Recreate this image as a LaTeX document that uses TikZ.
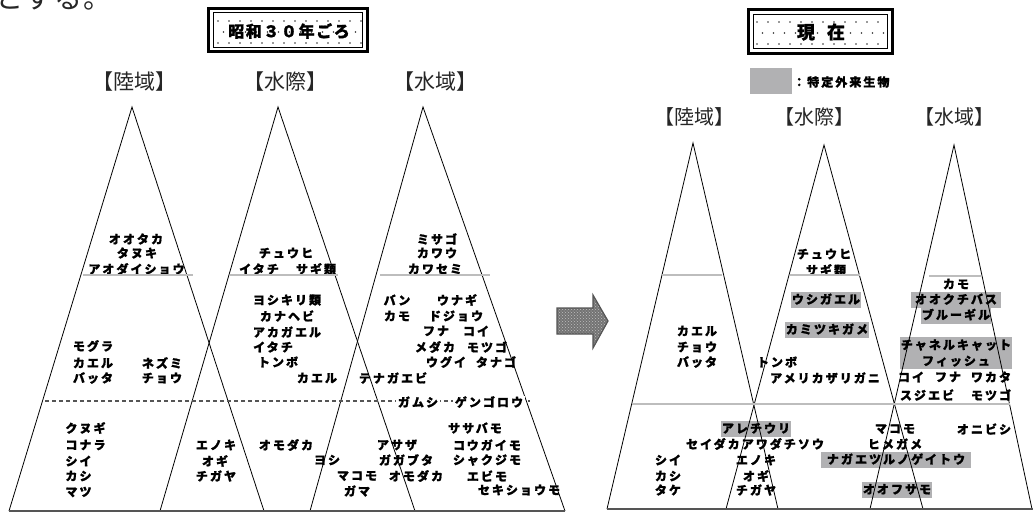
\documentclass[tikz,border=0pt]{standalone}
\usepackage{fontspec}
\usetikzlibrary{patterns}
\newfontfamily\jpfont{Noto Sans CJK JP}
\newfontfamily\jplabel{Noto Sans CJK JP}[LetterSpace=17, BoldFeatures={FakeBold=1.2}]
\newfontfamily\jptitle{Noto Sans CJK JP}[LetterSpace=10, BoldFeatures={FakeBold=1}]
\definecolor{aliengray}{HTML}{B1B1B3}
\definecolor{zonegray}{HTML}{BDBDBD}
\definecolor{basegray}{HTML}{555555}
\begin{document}
\begin{tikzpicture}[x=1pt, y=-1pt,
    side/.style   = {black, line width=0.8pt},
    zone/.style   = {zonegray, line width=1.6pt},
    ground/.style = {basegray, line width=1.6pt},
    lbl/.style    = {font=\jplabel\bfseries\fontsize{12}{16}\selectfont, inner sep=0pt, xshift=1pt},
    alien/.style  = {lbl, fill=aliengray, inner xsep=1pt, inner ysep=2pt, text height=9.8pt, text depth=2.2pt},
    head/.style   = {font=\jpfont\fontsize{21}{24}\selectfont, text=black!85, inner sep=0pt},
    dot/.style    = {black!80}]
\useasboundingbox (0,0) rectangle (1033,512);
\fill[white] (0,0) rectangle (1033,512);

% line of the text above, cut off
\node[font=\jpfont\fontsize{28}{30}\selectfont, anchor=base west, inner sep=0pt, text=black!85] (prevline) at (-5,8.5) {と\hspace{1.5pt}す\hspace{1.5pt}る\hspace{1.5pt}。};

% ---------- Showa 30 ----------
\begin{scope}
  \clip (213.5,12.5) rectangle (362.5,47.5);
  \foreach \row/\off in {21/0, 32/5.5, 43/0}
    \foreach \col in {0,...,13}
      \fill[dot] (218+\off+11*\col, \row) circle (0.8pt);
\end{scope}
\draw[line width=3pt] (208.5,8.5) rectangle (367.5,51.5);
\draw[line width=1pt] (213.5,12.5) rectangle (362.5,47.5);
\node[font=\jptitle\bfseries\fontsize{16}{18}\selectfont, inner sep=0pt, xshift=1pt] (eraold) at (288,31) {昭和３０年ごろ};

\node[head] (landA)  at (134,82) {【陸域】};
\node[head] (shoreA) at (285,82) {【水際】};
\node[head] (waterA) at (435,82) {【水域】};

\node[lbl] (ootaka)   at (135,239) {オオタカ};
\node[lbl] (tanuki)   at (136,253) {タヌキ};
\node[lbl] (aodaisho) at (135.5,269) {アオダイショウ};
\node[lbl] (mogura)   at (92,346) {モグラ};
\node[lbl] (kaeruA)   at (92,363) {カエル};
\node[lbl] (battaA)   at (92,378) {バッタ};
\node[lbl] (nezumi)   at (161,363) {ネズミ};
\node[lbl] (chouA)    at (161,378) {チョウ};
\node[lbl] (kunugi)   at (84.5,428) {クヌギ};
\node[lbl] (konara)   at (84.5,445) {コナラ};
\node[lbl] (shiiA)    at (77.5,461) {シイ};
\node[lbl] (kashiA)   at (77.5,476) {カシ};
\node[lbl] (matsu)    at (77.5,492) {マツ};
\node[lbl] (enokiA)   at (215,445) {エノキ};
\node[lbl] (ogiA)     at (214,461) {オギ};
\node[lbl] (chigayaA) at (215,476) {チガヤ};

\node[lbl] (chuhiA)    at (285,253) {チュウヒ};
\node[lbl] (itachiA)   at (258,269) {イタチ};
\node[lbl] (sagiA)     at (315,269) {サギ類};
\node[lbl] (yoshikiri) at (286,300) {ヨシキリ類};
\node[lbl] (kanahebi)  at (286,316) {カナヘビ};
\node[lbl] (akagaeru)  at (286,332) {アカガエル};
\node[lbl] (itachiB)   at (272,347) {イタチ};
\node[lbl] (tonboA)    at (277,362) {トンボ};
\node[lbl] (kaeruB)    at (316,378) {カエル};
\node[lbl] (tenaga)    at (392,378) {テナガエビ};
\node[lbl] (omodakaA)  at (285,445) {オモダカ};
\node[lbl] (yoshi)     at (326,460) {ヨシ};
\node[lbl] (makomoA)   at (356,476) {マコモ};
\node[lbl] (gama)      at (356,491) {ガマ};

\node[lbl] (misago)     at (436,239) {ミサゴ};
\node[lbl] (kawau)      at (436,253) {カワウ};
\node[lbl] (kawasemi)   at (434,269) {カワセミ};
\node[lbl] (ban)        at (396,300) {バン};
\node[lbl] (kamoA)      at (396,316) {カモ};
\node[lbl] (unagi)      at (456,300) {ウナギ};
\node[lbl] (dojou)      at (455,316) {ドジョウ};
\node[lbl] (funaA)      at (435,331) {フナ};
\node[lbl] (koiA)       at (475,331) {コイ};
\node[lbl] (medaka)     at (434,347) {メダカ};
\node[lbl] (motsugoA)   at (486,347) {モツゴ};
\node[lbl] (ugui)       at (445,362) {ウグイ};
\node[lbl] (tanago)     at (495,362) {タナゴ};
\node[lbl] (asaza)      at (396,445) {アサザ};
\node[lbl] (gagabuta)   at (405,460) {ガガブタ};
\node[lbl] (omodakaB)   at (415,476) {オモダカ};
\node[lbl] (sasabamo)   at (474,428) {ササバモ};
\node[lbl] (kougaimo)   at (486,445) {コウガイモ};
\node[lbl] (shakujimo)  at (486,460) {シャクジモ};
\node[lbl] (ebimo)      at (486,476) {エビモ};
\node[lbl] (sekishoumo) at (518,490) {セキショウモ};

\draw[side] (9,511) -- (132,107) -- (264,511);
\draw[side] (160,511) -- (278,107) -- (415,511);
\draw[side] (310,511) -- (423,107) -- (565,511);
\draw[zone] (83,275) -- (193,275);
\draw[zone] (230,275) -- (338,275);
\draw[zone] (380,275) -- (490,275);
\draw[basegray, line width=1.2pt, dash pattern=on 4pt off 3pt] (45,401) -- (530,401);
\draw[ground] (9,511) -- (565,511);

\node[lbl, fill=white, inner xsep=2pt] (gamushi)  at (417,402) {ガムシ};
\node[lbl, fill=white, inner xsep=2pt] (gengorou) at (488,402) {ゲンゴロウ};

% ---------- arrow ----------
\fill[black!55] (557,308) -- (593,308) -- (593,295) -- (608,321) -- (593,348) -- (593,334) -- (557,334) -- cycle;
\fill[pattern=crosshatch dots, pattern color=white!75!black] (557,308) -- (593,308) -- (593,295) -- (608,321) -- (593,348) -- (593,334) -- (557,334) -- cycle;
\draw[basegray, line width=1.2pt] (557,308) -- (593,308) -- (593,295) -- (608,321) -- (593,348) -- (593,334) -- (557,334) -- cycle;

% ---------- now ----------
\begin{scope}
  \clip (753.5,14.5) rectangle (887.5,48.5);
  \foreach \row/\off in {22/0, 33/5.5, 44/0}
    \foreach \col in {0,...,12}
      \fill[dot] (757+\off+11*\col, \row) circle (0.8pt);
\end{scope}
\draw[line width=3pt] (748.5,9.5) rectangle (892.5,53.5);
\draw[line width=1pt] (753.5,14.5) rectangle (887.5,48.5);
\node[font=\jptitle\bfseries\fontsize{18}{20}\selectfont, inner sep=0pt] (eranow) at (821,32) {現\hspace{12pt}在};

\fill[aliengray] (750,68) rectangle (792,94);
\node[lbl, anchor=west] (legend) at (792,82) {：特定外来生物};

\node[head, font=\jpfont\fontsize{20}{24}\selectfont] (landB)  at (694.5,117) {【陸域】};
\node[head, font=\jpfont\fontsize{20}{24}\selectfont] (shoreB) at (814.5,117) {【水際】};
\node[head, font=\jpfont\fontsize{20}{24}\selectfont] (waterB) at (954.5,117) {【水域】};

\node[lbl] (kaeruC)   at (696,331) {カエル};
\node[lbl] (chouC)    at (696,347) {チョウ};
\node[lbl] (battaC)   at (696,362) {バッタ};
\node[lbl] (shiiC)    at (667,460) {シイ};
\node[lbl] (kashiC)   at (667,476) {カシ};
\node[lbl] (take)     at (667,490) {タケ};
\node[alien] (arechi) at (755,429) {アレチウリ};
\node[lbl] (seidaka)  at (754,444) {セイダカアワダチソウ};
\node[lbl] (enokiC)   at (755,460) {エノキ};
\node[lbl] (ogiC)     at (755,476) {オギ};
\node[lbl] (chigayaC) at (755,490) {チガヤ};

\node[lbl] (chuhiC)       at (823,254) {チュウヒ};
\node[lbl] (sagiC)        at (825,270) {サギ類};
\node[alien] (ushigaeru)  at (825,300) {ウシガエル};
\node[alien] (kamitsuki)  at (826,330) {カミツキガメ};
\node[lbl] (tonboC)       at (776,362) {トンボ};
\node[lbl] (zarigani)     at (824,378) {アメリカザリガニ};

\node[lbl] (kamoC)                  at (955,284) {カモ};
\node[alien, inner xsep=4pt] (bass) at (955,300) {オオクチバス};
\node[alien] (bluegill)             at (955,315.5) {ブルーギル};
\node[lbl, fill=aliengray, align=center, inner xsep=1pt, minimum height=32pt] (catfish) at (955,353) {チャネルキャット\\フィッシュ};
\node[lbl] (koiC)     at (910,377) {コイ};
\node[lbl] (funaC)    at (947,377) {フナ};
\node[lbl] (wakata)   at (990,377) {ワカタ};
\node[lbl] (sujiebi)  at (926,395) {スジエビ};
\node[lbl] (motsugoC) at (990,395) {モツゴ};
\node[lbl] (makomoC)  at (894,429) {マコモ};
\node[lbl] (himegame) at (894,444) {ヒメガメ};
\node[alien, inner xsep=5.5pt] (nagaetsuru) at (895,460) {ナガエツルノゲイトウ};
\node[alien] (oofusamo) at (896,490) {オオフサモ};
\node[lbl] (onibishi) at (983,429) {オニビシ};

\draw[side] (607,509) -- (693,143) -- (778,509);
\draw[side] (726,509) -- (824,145) -- (923,509);
\draw[side] (870,509) -- (954,145) -- (1032,509);
\draw[zone] (662,275) -- (722,275);
\draw[zone] (790,275) -- (860,275);
\draw[zone] (929,276) -- (981,276);
\draw[zone] (632,404) -- (1010,404);
\draw[ground] (607,509) -- (1033,509);
\end{tikzpicture}
\end{document}
